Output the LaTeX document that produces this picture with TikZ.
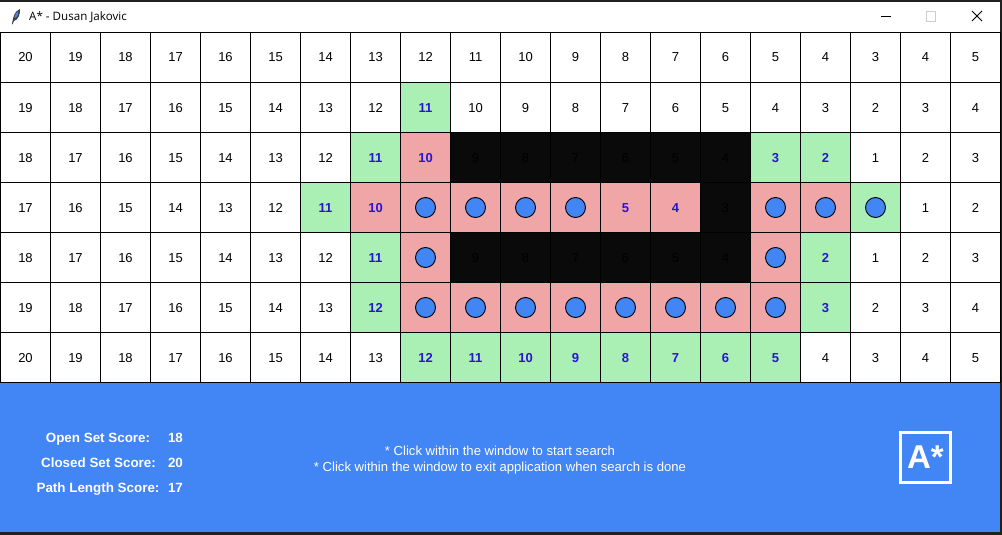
\documentclass[tikz,border=0pt]{standalone}
\usepackage{fontspec}
\setmainfont{Liberation Sans}
\newfontfamily\titlefont{Open Sans}
\usepackage{xcolor}
\usepackage{tikz}
\definecolor{frame}{RGB}{32,32,32}
\definecolor{panel}{RGB}{66,133,244}
\definecolor{opencell}{RGB}{170,240,180}
\definecolor{closedcell}{RGB}{240,166,166}
\definecolor{wallcell}{RGB}{10,10,10}
\definecolor{score}{RGB}{40,20,210}
\definecolor{greybox}{RGB}{204,204,204}
\tikzset{
  cell/.style   = {draw=black, line width=0.9pt, minimum size=50pt, inner sep=0pt,
                   outer sep=0pt, text height=9pt, text depth=0pt, font=\fontsize{13}{14}\selectfont},
  cellw/.style  = {cell, fill=white, text=black},
  cellg/.style  = {cell, fill=opencell, text=score, font=\fontsize{13}{14}\selectfont\bfseries},
  cellr/.style  = {cell, fill=closedcell, text=score, font=\fontsize{13}{14}\selectfont\bfseries},
  cellk/.style  = {cell, fill=wallcell, text=black},
  pathdot/.style = {circle, draw=black, fill=panel, line width=0.9pt,
                    minimum size=20pt, inner sep=0pt},
  label/.style  = {text=white, inner sep=0pt, text height=9pt, text depth=0pt,
                   font=\fontsize{13.4}{14}\selectfont\bfseries},
  hint/.style   = {text=white, inner sep=0pt, align=center, font=\fontsize{13.1}{16}\selectfont},
}

\begin{document}
\begin{tikzpicture}[x=1pt, y=-1pt]
\useasboundingbox (0,0) rectangle (1002,535);
\fill[frame] (0,0) rectangle (1002,535);
\fill[white] (0,2) rectangle (1000,33);
\fill[panel] (0,382) rectangle (1000,532);
% title bar
\node[anchor=west, inner sep=0pt, font=\titlefont\fontsize{11.6}{14}\selectfont] (title) at (29,17.5) {A* - Dusan Jakovic};
\fill[black!75] (12,24) .. controls (13,18) and (14,11) .. (20,9) .. controls (20.5,14) and (18,20) .. (14,21) -- (12.6,24.5) -- cycle;
\fill[panel] (14.5,18) .. controls (15,14) and (16.5,12) .. (18.5,11) .. controls (18.5,14) and (17,18) .. (14.5,18) -- cycle;
\draw[black, line width=1pt] (881,16.5) -- (891,16.5);
\draw[greybox, line width=1pt] (926.5,11.5) rectangle (935.5,21.5);
\draw[black, line width=0.8pt] (972,11) -- (982,21) (982,11) -- (972,21);
% grid
\foreach \cells [count=\r from 0] in {
  {20/w,19/w,18/w,17/w,16/w,15/w,14/w,13/w,12/w,11/w,10/w,9/w,8/w,7/w,6/w,5/w,4/w,3/w,4/w,5/w},
  {19/w,18/w,17/w,16/w,15/w,14/w,13/w,12/w,11/g,10/w,9/w,8/w,7/w,6/w,5/w,4/w,3/w,2/w,3/w,4/w},
  {18/w,17/w,16/w,15/w,14/w,13/w,12/w,11/g,10/r,9/k,8/k,7/k,6/k,5/k,4/k,3/g,2/g,1/w,2/w,3/w},
  {17/w,16/w,15/w,14/w,13/w,12/w,11/g,10/r,/r,/r,/r,/r,5/r,4/r,3/k,/r,/r,/g,1/w,2/w},
  {18/w,17/w,16/w,15/w,14/w,13/w,12/w,11/g,/r,9/k,8/k,7/k,6/k,5/k,4/k,/r,2/g,1/w,2/w,3/w},
  {19/w,18/w,17/w,16/w,15/w,14/w,13/w,12/g,/r,/r,/r,/r,/r,/r,/r,/r,3/g,2/w,3/w,4/w},
  {20/w,19/w,18/w,17/w,16/w,15/w,14/w,13/w,12/g,11/g,10/g,9/g,8/g,7/g,6/g,5/g,4/w,3/w,4/w,5/w}} {
  \foreach \v/\s [count=\c from 0] in \cells {
    \node[cell\s] (cell-\r-\c) at ({25.5+50*\c},{57.5+50*\r}) {\v};
  }
}
% final path
\foreach \r/\c in {3/8,3/9,3/10,3/11,3/15,3/16,3/17,4/8,4/15,5/8,5/9,5/10,5/11,5/12,5/13,5/14,5/15} {
  \node[pathdot] (dot-\r-\c) at (cell-\r-\c) {};
}
% scores
\node[label] (openlabel) at (98,437.5) {Open Set Score:};
\node[label] (closedlabel) at (98.5,462.5) {Closed Set Score:};
\node[label] (pathlabel) at (98,487.5) {Path Length Score:};
\node[label] (openscore) at (175.5,437.5) {18};
\node[label] (closedscore) at (175.5,462.5) {20};
\node[label] (pathscore) at (175.5,487.5) {17};
\node[hint] (hint) at (500,460.5) {* Click within the window to start search\\* Click within the window to exit application when search is done};
\node[draw=white, line width=3pt, minimum size=50pt, inner sep=0pt, text=white, font=\fontsize{33}{33}\selectfont\bfseries] (logo) at (925.5,457.5) {A*};
\end{tikzpicture}
\end{document}
